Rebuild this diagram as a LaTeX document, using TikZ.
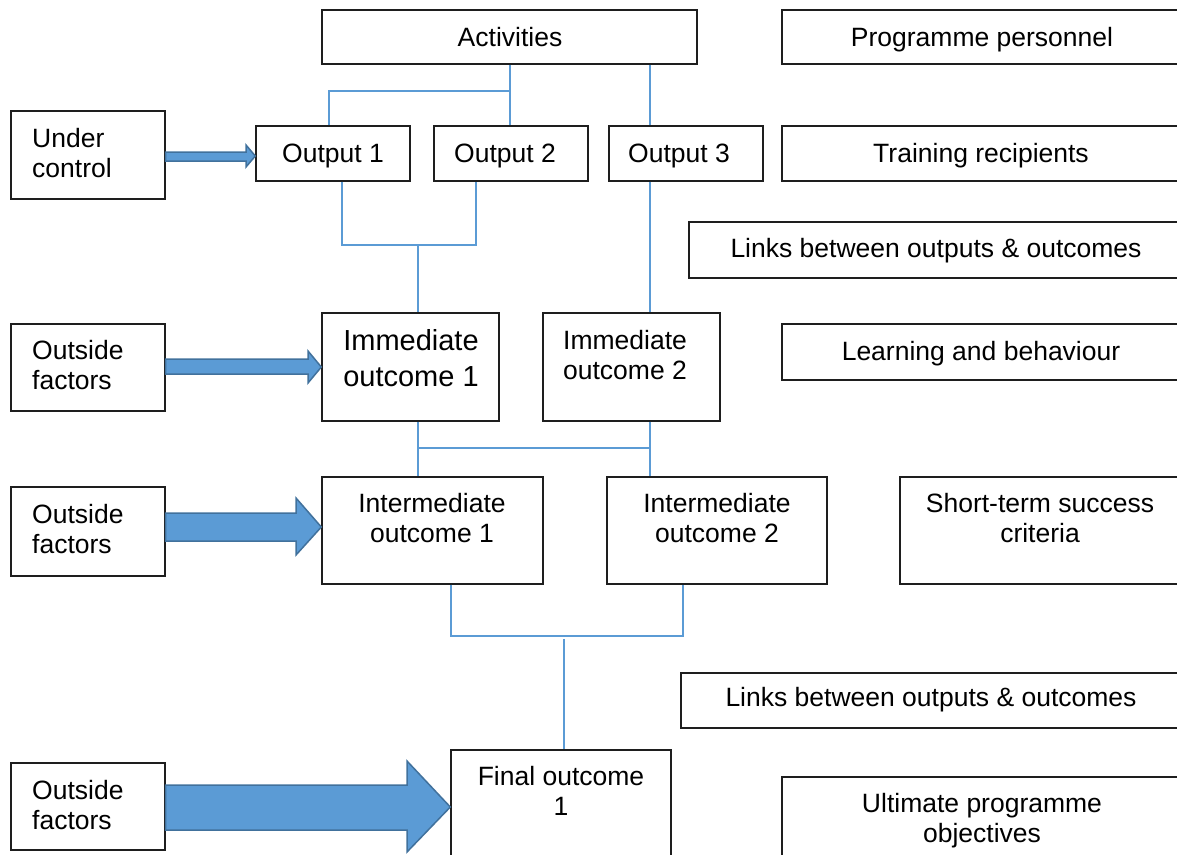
\documentclass[tikz,border=0pt]{standalone}
\usepackage{fontspec}
\setmainfont{Liberation Sans}
\usetikzlibrary{calc}
\definecolor{lnk}{HTML}{5B9BD5}
\definecolor{afill}{HTML}{5B9BD5}
\definecolor{adraw}{HTML}{41719C}
\definecolor{bdr}{HTML}{1E1E1E}
\newcommand\mybox[5]{\node[box, minimum width={(#4-#2)*1pt}, minimum height={(#5-#3)*1pt}] (#1) at ({(#2+#4)/2},{(#3+#5)/2}) {};}
\begin{document}
\begin{tikzpicture}[x=1pt,y=-1pt,
 box/.style={draw=bdr, line width=1.4pt, inner sep=0pt, fill=white},
 txt/.style={font=\fontsize{26.5}{30}\selectfont, align=center, inner sep=0pt},
 bigtxt/.style={font=\fontsize{29}{36}\selectfont, align=center, inner sep=0pt},
 ltxt/.style={font=\fontsize{26.5}{30}\selectfont, align=left, inner sep=0pt, anchor=west},
 link/.style={draw=lnk, line width=1.2pt},
 barrow/.style={fill=afill, draw=adraw, line width=1.5pt, line join=miter}]
\useasboundingbox (0,0) rectangle (1177,854);
\clip (0,0) rectangle (1177,854);
% boxes
\mybox{act}{322}{10}{697}{64}
\mybox{pp}{782}{10}{1190}{64}
\mybox{uc}{11}{111}{165}{199}
\mybox{o1}{256}{126}{410}{181}
\mybox{o2}{434}{126}{588}{181}
\mybox{o3}{609}{126}{763}{181}
\mybox{tr}{782}{126}{1190}{181}
\mybox{lk1}{689}{222}{1190}{278}
\mybox{of1}{11}{324}{165}{411}
\mybox{io1}{322}{313}{499}{421}
\mybox{io2}{543}{313}{720}{421}
\mybox{lb}{782}{324}{1190}{380}
\mybox{of2}{11}{487}{165}{576}
\mybox{im1}{322}{477}{543}{584}
\mybox{im2}{607}{477}{827}{584}
\mybox{st}{900}{477}{1190}{584}
\mybox{lk2}{681}{673}{1190}{728}
\mybox{of3}{11}{763}{165}{850}
\mybox{fo}{451}{750}{671}{870}
\mybox{up}{782}{777}{1190}{870}
% texts
\node[txt] (t-act) at (510,37) {Activities};
\node[txt] (t-pp) at (982,40) {Programme personnel};
\node[ltxt] (t-uc) at (32,153) {Under\\control};
\node[txt] (t-o1) at (333,156) {Output 1};
\node[txt] (t-o2) at (505,156) {Output 2};
\node[txt] (t-o3) at (679,156) {Output 3};
\node[txt] (t-tr) at (981,156) {Training recipients};
\node[txt] (t-lk1) at (936,251) {Links between outputs \& outcomes};
\node[ltxt] (t-of1) at (32,365) {Outside\\factors};
\node[bigtxt] (t-io1) at (411,358) {Immediate\\outcome 1};
\node[txt] (t-io2) at (625,355) {Immediate\\outcome 2};
\node[txt] (t-lb) at (981,354) {Learning and behaviour};
\node[ltxt] (t-of2) at (32,529) {Outside\\factors};
\node[txt] (t-im1) at (432,518) {Intermediate\\outcome 1};
\node[txt] (t-im2) at (717,518) {Intermediate\\outcome 2};
\node[txt] (t-st) at (1040,518) {Short-term success\\criteria};
\node[txt] (t-lk2) at (931,700) {Links between outputs \& outcomes};
\node[ltxt] (t-of3) at (32,805) {Outside\\factors};
\node[txt] (t-fo) at (561,791) {Final outcome\\1};
\node[txt] (t-up) at (982,821) {Ultimate programme\\objectives};
% connectors
\draw[link] (act.south -| 510,0) -- (o2.north -| 510,0);
\draw[link] (510,91) -| (o1.north -| 329,0);
\draw[link] (act.south -| 650,0) -- (o3.north -| 650,0);
\draw[link] (o1.south -| 342,0) |- (476,245) -- (o2.south -| 476,0);
\draw[link] (418,245) -- (io1.north -| 418,0);
\draw[link] (o3.south -| 650,0) -- (io2.north -| 650,0);
\draw[link] (io1.south -| 418,0) -- (im1.north -| 418,0);
\draw[link] (io2.south -| 650,0) -- (im2.north -| 650,0);
\draw[link] (418,448) -- (650,448);
\draw[link] (im1.south -| 451,0) |- (683,636) -- (im2.south -| 683,0);
\draw[link] (564,639) -- (fo.north -| 564,0);
% block arrows
\draw[barrow] (uc.east |- 0,152) -- (246,152) -- (246,145) -- (o1.west |- 0,156) -- (246,167) -- (246,161) -- (uc.east |- 0,161) -- cycle;
\draw[barrow] (of1.east |- 0,359) -- (308,359) -- (308,351) -- (io1.west |- 0,367) -- (308,383) -- (308,374) -- (of1.east |- 0,374) -- cycle;
\draw[barrow] (of2.east |- 0,513) -- (296,513) -- (296,498) -- (im1.west |- 0,527) -- (296,555) -- (296,541) -- (of2.east |- 0,541) -- cycle;
\draw[barrow] (of3.east |- 0,785) -- (407,785) -- (407,761) -- (fo.west |- 0,807) -- (407,852) -- (407,830) -- (of3.east |- 0,830) -- cycle;
\end{tikzpicture}
\end{document}
